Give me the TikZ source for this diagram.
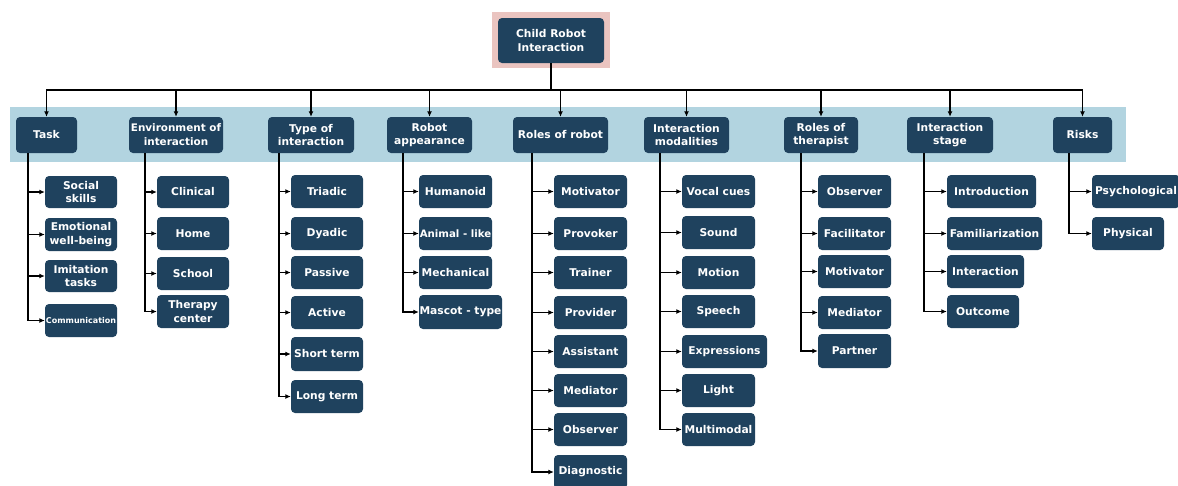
\documentclass[tikz,border=0pt]{standalone}
\usepackage{fontspec}
\setmainfont{DejaVu Sans}
\usetikzlibrary{arrows.meta}
\definecolor{boxblue}{RGB}{31,66,94}
\definecolor{bandblue}{RGB}{178,212,224}
\definecolor{rootpink}{RGB}{234,196,192}
\tikzset{
  bx/.style={fill=boxblue, text=white, rounded corners=4pt, align=center,
    inner sep=0pt, font=\bfseries\fontsize{10.7}{13.8}\selectfont},
  link/.style={draw=black, line width=1.2pt},
  arr/.style={link, -{Latex[length=5.5pt,width=5pt]}},
  sub/.style={draw=black, line width=1.1pt, -{Latex[length=5.5pt,width=5pt]}},
}
% box from its corners (x1,y1)-(x2,y2), y measured downward
\newcommand\bx[6][]{%
  \node[bx,#1, minimum width={(#4-#2)*1pt}, minimum height={(#5-#3)*1pt}]
    (#6) at ({(#2+#4)/2},{(#3+#5)/2})}
\begin{document}
\begin{tikzpicture}[x=1pt,y=-1pt]
\useasboundingbox (0,0) rectangle (1178,485);
% band behind the category headers
\fill[bandblue] (10,107) rectangle (1126,162);
% root
\node[fill=rootpink, minimum width=118pt, minimum height=56pt, inner sep=0] (rootbg) at (551,40) {};
\bx{498}{18}{604}{63}{root}{Child Robot\\Interaction};
\coordinate (bus) at (551,90);
\draw[link] (root.south) -- (bus);
% headers
\bx{16}{117}{77}{153}{task}{Task};
\bx[font=\bfseries\fontsize{10.4}{13.8}\selectfont]{129}{117}{223}{153}{env}{Environment of\\interaction};
\bx{268}{117}{354}{153}{typ}{Type of\\interaction};
\bx{387}{117}{472}{153}{app}{Robot\\appearance};
\bx{513}{117}{608}{153}{rob}{Roles of robot};
\bx{644}{117}{729}{153}{mod}{Interaction\\modalities};
\bx{784}{117}{858}{153}{ther}{Roles of\\therapist};
\bx{907}{117}{993}{153}{stg}{Interaction\\stage};
\bx{1053}{117}{1112}{153}{risk}{Risks};
\foreach \h in {task,env,typ,app,rob,mod,ther,stg,risk}
  \draw[arr] (bus) -| (\h.north);
% Task
\bx{45}{176}{117}{208}{t1}{Social\\skills};
\bx{45}{218}{117}{251}{t2}{Emotional\\well-being};
\bx{45}{260}{117}{292}{t3}{Imitation\\tasks};
\bx[font=\bfseries\fontsize{8}{9}\selectfont]{45}{304}{117}{337}{t4}{Communication};
\coordinate (tk) at (28,153);
\foreach \c in {t1,t2,t3,t4} \draw[sub] (tk) |- (\c.west);
% Environment
\bx{157}{176}{229}{208}{e1}{Clinical};
\bx{157}{217}{229}{250}{e2}{Home};
\bx{157}{257}{229}{290}{e3}{School};
\bx{157}{295}{229}{328}{e4}{Therapy\\center};
\coordinate (en) at (145,153);
\foreach \c in {e1,e2,e3,e4} \draw[sub] (en) |- (\c.west);
% Type of interaction
\bx{291}{175}{363}{208}{y1}{Triadic};
\bx{291}{217}{363}{250}{y2}{Dyadic};
\bx{291}{256}{363}{289}{y3}{Passive};
\bx{291}{296}{363}{329}{y4}{Active};
\bx{291}{337}{363}{371}{y5}{Short term};
\bx{291}{380}{363}{413}{y6}{Long term};
\coordinate (ty) at (279,153);
\foreach \c in {y1,y2,y3,y4,y5,y6} \draw[sub] (ty) |- (\c.west);
% Robot appearance
\bx{419}{175}{492}{208}{a1}{Humanoid};
\bx[font=\bfseries\fontsize{10.2}{13.8}\selectfont]{419}{217}{492}{250}{a2}{Animal - like};
\bx{419}{256}{492}{289}{a3}{Mechanical};
\bx{419}{295}{502}{329}{a4}{Mascot - type};
\coordinate (ap) at (403,153);
\foreach \c in {a1,a2,a3,a4} \draw[sub] (ap) |- (\c.west);
% Roles of robot
\bx{554}{175}{627}{208}{r1}{Motivator};
\bx{554}{217}{627}{250}{r2}{Provoker};
\bx{554}{256}{627}{289}{r3}{Trainer};
\bx{554}{296}{627}{329}{r4}{Provider};
\bx{554}{335}{627}{368}{r5}{Assistant};
\bx{554}{374}{627}{407}{r6}{Mediator};
\bx{554}{413}{627}{446}{r7}{Observer};
\bx{554}{455}{627}{489}{r8}{Diagnostic};
\coordinate (ro) at (532,153);
\foreach \c in {r1,r2,r3,r4,r5,r6,r7,r8} \draw[sub] (ro) |- (\c.west);
% Interaction modalities
\bx{682}{175}{755}{208}{m1}{Vocal cues};
\bx{682}{216}{755}{249}{m2}{Sound};
\bx{682}{256}{755}{289}{m3}{Motion};
\bx{682}{295}{755}{328}{m4}{Speech};
\bx{682}{335}{767}{368}{m5}{Expressions};
\bx{682}{374}{755}{407}{m6}{Light};
\bx{682}{413}{755}{446}{m7}{Multimodal};
\coordinate (mo) at (660,153);
\foreach \c in {m1,m2,m3,m4,m5,m6,m7} \draw[sub] (mo) |- (\c.west);
% Roles of therapist
\bx{818}{175}{891}{208}{p1}{Observer};
\bx{818}{217}{891}{250}{p2}{Facilitator};
\bx{818}{255}{891}{288}{p3}{Motivator};
\bx{818}{296}{891}{329}{p4}{Mediator};
\bx{818}{334}{891}{368}{p5}{Partner};
\coordinate (th) at (801,153);
\foreach \c in {p1,p2,p3,p4,p5} \draw[sub] (th) |- (\c.west);
% Interaction stage
\bx{947}{175}{1036}{208}{s1}{Introduction};
\bx{947}{217}{1042}{250}{s2}{Familiarization};
\bx{947}{255}{1024}{288}{s3}{Interaction};
\bx{947}{295}{1019}{328}{s4}{Outcome};
\coordinate (st) at (924,153);
\foreach \c in {s1,s2,s3,s4} \draw[sub] (st) |- (\c.west);
% Risks
\bx{1092}{175}{1180}{208}{k1}{Psychological};
\bx{1092}{217}{1164}{250}{k2}{Physical};
\coordinate (rk) at (1069,153);
\foreach \c in {k1,k2} \draw[sub] (rk) |- (\c.west);
\end{tikzpicture}
\end{document}
